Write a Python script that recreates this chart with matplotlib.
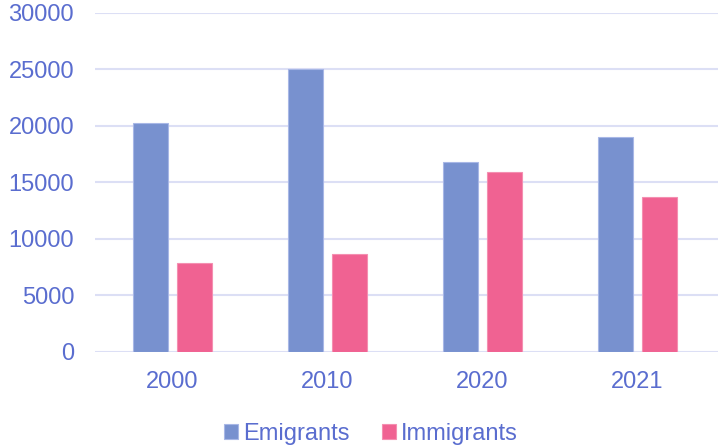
import matplotlib.pyplot as plt
import numpy as np

plt.rcParams['font.family'] = ['Liberation Sans', 'DejaVu Sans']

years = ["2000", "2010", "2020", "2021"]
emigrants = [20250, 25050, 16820, 19030]
immigrants = [7850, 8680, 15930, 13690]

text_color = "#5a6dcf"
blue = "#7891cf"
pink = "#f06292"

fig = plt.figure(figsize=(7.18, 4.48), dpi=100)
ax = fig.add_axes([0.1323, 0.2143, 0.8677, 0.7567])

x = np.arange(len(years))
w = 0.224
off = 0.143
ax.bar(x - off, emigrants, width=w, color=blue, edgecolor="#a8b7e6", linewidth=0.8, label="Emigrants", zorder=3)
ax.bar(x + off, immigrants, width=w, color=pink, edgecolor="#f48fb1", linewidth=0.8, label="Immigrants", zorder=3)

ax.set_xlim(-0.5, 3.52)
ax.set_ylim(0, 30000)
ax.set_yticks(range(0, 30001, 5000))
ax.set_xticks(x)
ax.set_xticklabels(years)
ax.grid(axis="y", color="#dcdff5", linewidth=1.5, zorder=0)
for s in ax.spines.values():
    s.set_visible(False)
ax.tick_params(axis="both", length=0, labelsize=17, colors=text_color)
ax.tick_params(axis="y", pad=15)
ax.tick_params(axis="x", pad=14)

leg = fig.legend(loc="lower center", bbox_to_anchor=(0.5165, -0.04), ncol=2, frameon=False,
                 fontsize=17, handlelength=0.6, handleheight=0.6, handletextpad=0.2, columnspacing=1.4)
for t in leg.get_texts():
    t.set_color(text_color)

fig.savefig("out.png", dpi=100)
